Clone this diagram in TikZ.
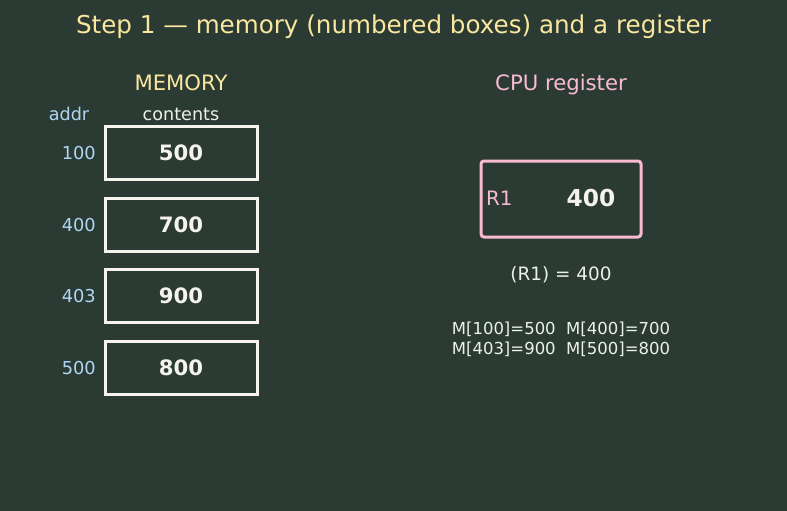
\documentclass[tikz,border=0pt]{standalone}
\usepackage{fontspec}
\setmainfont{DejaVu Sans}
\definecolor{bg}{HTML}{2B3B34}
\definecolor{ttl}{HTML}{F9E79F}
\definecolor{addrc}{HTML}{AED6F1}
\definecolor{boxc}{HTML}{F4F4EC}
\definecolor{pinkc}{HTML}{F8BBD0}
\definecolor{txt}{HTML}{ECF0EA}
\begin{document}
\begin{tikzpicture}[x=1pt,y=-1pt,
  membox/.style={draw=boxc,line width=3pt,minimum width=152pt,minimum height=53pt,inner sep=0pt,text=boxc,font=\fontsize{21.2}{25}\selectfont\bfseries},
  addrlab/.style={text=addrc,anchor=east,font=\fontsize{17.8}{21}\selectfont,inner sep=0pt},
  hdr/.style={font=\fontsize{21.2}{25}\selectfont,inner sep=0pt}]
\fill[bg] (0,0) rectangle (787,511);
\useasboundingbox (0,0) rectangle (787,511);
\node[text=ttl,font=\fontsize{24.6}{29}\selectfont,inner sep=0pt] (title) at (393.5,26.5) {Step 1 — memory (numbered boxes) and a register};
\node[hdr,text=ttl] (memh) at (181,83) {MEMORY};
\node[hdr,text=pinkc] (cpuh) at (561,85) {CPU register};
\node[text=addrc,font=\fontsize{17.6}{21}\selectfont,inner sep=0pt] (addrh) at (69,114) {addr};
\node[text=txt,font=\fontsize{17.6}{21}\selectfont,inner sep=0pt] (conth) at (181,114) {contents};
\node[membox] (m1) at (181,153) {500};
\node[membox] (m2) at (181,225) {700};
\node[membox] (m3) at (181,296) {900};
\node[membox] (m4) at (181,368) {800};
\node[addrlab] (a1) at (96,153) {100};
\node[addrlab] (a2) at (96,225) {400};
\node[addrlab] (a3) at (96,296) {403};
\node[addrlab] (a4) at (96,368) {500};
\node[draw=pinkc,line width=3pt,rounded corners=3pt,minimum width=160pt,minimum height=76pt,inner sep=0pt] (r1) at (561,199) {};
\node[text=pinkc,font=\fontsize{19.8}{23}\selectfont,anchor=west,inner sep=0pt] (r1lab) at (486,198) {R1};
\node[text=boxc,font=\fontsize{23.3}{28}\selectfont\bfseries,inner sep=0pt] (r1val) at (591,198) {400};
\node[text=txt,font=\fontsize{18.4}{22}\selectfont,inner sep=0pt] (eq) at (561,275) {(R1) = 400};
\node[text=txt,font=\fontsize{16.5}{20}\selectfont,inner sep=0pt,align=center] (mem) at (561,339) {M[100]=500\ \ M[400]=700\\M[403]=900\ \ M[500]=800};
\end{tikzpicture}
\end{document}
